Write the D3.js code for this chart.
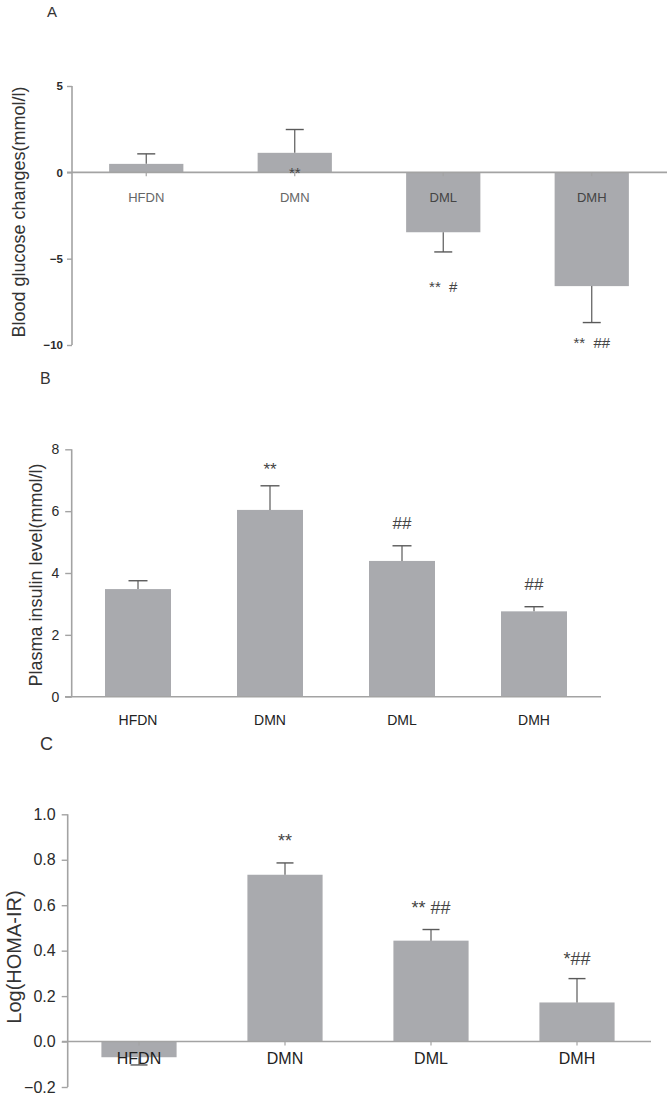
<!DOCTYPE html>
<html>
<head>
<meta charset="utf-8">
<script src="https://cdn.jsdelivr.net/npm/d3@7"></script>
<style>
  html, body { margin: 0; padding: 0; background: #fff; }
  svg { display: block; font-family: "Liberation Sans", Arial, sans-serif; }
</style>
</head>
<body>
<svg id="chart" width="672" height="1098"></svg>
<script>
// ---- data ----
const categories = ["HFDN", "DMN", "DML", "DMH"];

const glucoseMean = [0.49, 1.13, -3.47, -6.59];
const glucoseErr  = [0.58, 1.35, 1.14, 2.11];
const glucoseTicks = [5, 0, -5, -10];
const glucoseMarks = ["", "**", "**  #", "**  ##"];

const insulinMean = [3.48, 6.04, 4.39, 2.76];
const insulinErr  = [0.27, 0.78, 0.49, 0.15];
const insulinTicks = [0, 2, 4, 6, 8];
const insulinMarks = ["", "**", "##", "##"];

const homaMean = [-0.069, 0.734, 0.444, 0.172];
const homaErr  = [0.034, 0.052, 0.049, 0.105];
const homaTicks = [-0.2, 0.0, 0.2, 0.4, 0.6, 0.8, 1.0];
const homaMarks = ["", "**", "** ##", "*##"];

// ---- drawing ----
const svg = d3.select("#chart");
const BAR = "#a9aaae", AXIS = "#a3a3a3", ERR = "#5a5a5a";

function panel(o) {
  const g = svg.append("g");
  const y = d3.scaleLinear().domain(o.domain).range(o.yRange);
  const x = d3.scaleBand().domain(categories).range(o.xRange)
    .paddingInner(o.padIn).paddingOuter(o.padIn / 2);

  // panel letter
  g.append("text").attr("x", o.letterX).attr("y", o.letterY)
    .attr("font-size", o.letterSize).attr("fill", "#333").text(o.letter);

  // y axis
  const ax = g.append("g").attr("transform", `translate(${o.axisX},0)`)
    .call(d3.axisLeft(y).tickValues(o.ticks).tickSize(o.tickLen).tickPadding(o.tickPad)
      .tickFormat(o.fmt));
  ax.select(".domain").attr("stroke", AXIS).attr("stroke-width", 1.6)
    .attr("d", `M0,${o.yRange[1]}V${o.yRange[0]}`);
  ax.selectAll(".tick line").attr("stroke", AXIS).attr("stroke-width", 1.4);
  ax.selectAll(".tick text").attr("font-size", o.tickSize).attr("fill", "#2a2a2a")
    .attr("font-weight", o.tickWeight || "normal")
    .attr("font-family", "Liberation Sans, Arial, sans-serif");

  // y label
  g.append("text")
    .attr("transform", `translate(${o.ylabX},${o.ylabY}) rotate(-90)`)
    .attr("text-anchor", "middle").attr("font-size", o.ylabSize).attr("fill", "#333")
    .text(o.ylab);

  const mean = o.mean, err = o.err;

  // bars
  g.selectAll("rect.bar").data(categories).join("rect").attr("class", "bar")
    .attr("x", d => x(d)).attr("width", x.bandwidth())
    .attr("y", (d, i) => y(Math.max(0, mean[i])))
    .attr("height", (d, i) => Math.abs(y(mean[i]) - y(0)))
    .attr("fill", BAR);

  // baseline
  g.append("line").attr("x1", o.baseX[0]).attr("x2", o.baseX[1])
    .attr("y1", y(0)).attr("y2", y(0)).attr("stroke", AXIS).attr("stroke-width", 1.6);

  // small category ticks
  if (o.catTicks) {
    g.selectAll("line.ct").data(categories).join("line").attr("class", "ct")
      .attr("x1", d => x(d) + x.bandwidth() / 2).attr("x2", d => x(d) + x.bandwidth() / 2)
      .attr("y1", y(0)).attr("y2", y(0) + 4).attr("stroke", AXIS).attr("stroke-width", 1.2);
  }

  // error bars
  categories.forEach((c, i) => {
    const cx = x(c) + x.bandwidth() / 2;
    const tip = mean[i] >= 0 ? mean[i] + err[i] : mean[i] - err[i];
    g.append("line").attr("x1", cx).attr("x2", cx).attr("y1", y(mean[i])).attr("y2", y(tip))
      .attr("stroke", ERR).attr("stroke-width", 1.2);
    g.append("line").attr("x1", cx - o.cap / 2).attr("x2", cx + o.cap / 2)
      .attr("y1", y(tip)).attr("y2", y(tip)).attr("stroke", ERR).attr("stroke-width", 1.4);
  });

  // category labels
  g.selectAll("text.cat").data(categories).join("text").attr("class", "cat")
    .attr("x", d => x(d) + x.bandwidth() / 2).attr("y", o.catY)
    .attr("text-anchor", "middle").attr("font-size", o.catSize)
    .attr("fill", (d, i) => o.catFill(i)).text(d => d);

  // significance marks
  g.selectAll("text.sig").data(categories).join("text").attr("class", "sig")
    .attr("x", d => x(d) + x.bandwidth() / 2)
    .attr("y", (d, i) => o.markY(i, y))
    .attr("text-anchor", "middle").attr("dominant-baseline", "central")
    .attr("font-size", o.markSize).attr("fill", "#444")
    .style("white-space", "pre")
    .text((d, i) => o.marks[i]);
}

// Panel A
panel({
  letter: "A", letterX: 47, letterY: 17, letterSize: 15,
  domain: [-10, 5], yRange: [345, 86], xRange: [72, 666], padIn: 0.5,
  axisX: 72, ticks: glucoseTicks, tickLen: 5, tickPad: 4, tickSize: 11.5, tickWeight: "bold", fmt: d3.format("d"),
  ylab: "Blood glucose changes(mmol/l)", ylabX: 25, ylabY: 212, ylabSize: 18,
  mean: glucoseMean, err: glucoseErr, baseX: [67, 667], catTicks: true, cap: 18,
  catY: 201.5, catSize: 13, catFill: i => (i < 2 ? "#666" : "#444"),
  marks: glucoseMarks, markSize: 15,
  markY: (i, y) => (i === 1 ? y(0) : y(glucoseMean[i] - glucoseErr[i]) + (i === 2 ? 35 : 20))
});

// Panel B
panel({
  letter: "B", letterX: 40, letterY: 384, letterSize: 16,
  domain: [0, 8], yRange: [696.7, 449.3], xRange: [72, 600], padIn: 0.5,
  axisX: 71.7, ticks: insulinTicks, tickLen: 6.5, tickPad: 6, tickSize: 14, fmt: d3.format("d"),
  ylab: "Plasma insulin level(mmol/l)", ylabX: 41.5, ylabY: 575, ylabSize: 18,
  mean: insulinMean, err: insulinErr, baseX: [65, 601], catTicks: false, cap: 19,
  catY: 725, catSize: 14, catFill: () => "#222",
  marks: insulinMarks, markSize: 17,
  markY: (i, y) => y(insulinMean[i] + insulinErr[i]) - (i === 1 ? 16 : 22)
});

// Panel C
panel({
  letter: "C", letterX: 40, letterY: 750, letterSize: 18,
  domain: [-0.2, 1.0], yRange: [1087, 814.3], xRange: [66, 650], padIn: 0.485,
  axisX: 67.7, ticks: homaTicks, tickLen: 6, tickPad: 6, tickSize: 16, fmt: d3.format(".1f"),
  ylab: "Log(HOMA-IR)", ylabX: 21, ylabY: 957, ylabSize: 20,
  mean: homaMean, err: homaErr, baseX: [62, 651], catTicks: true, cap: 17,
  catY: 1064, catSize: 16, catFill: () => "#222",
  marks: homaMarks, markSize: 18,
  markY: (i, y) => y(homaMean[i] + homaErr[i]) - (i === 3 ? 20 : 22)
});
</script>
</body>
</html>
